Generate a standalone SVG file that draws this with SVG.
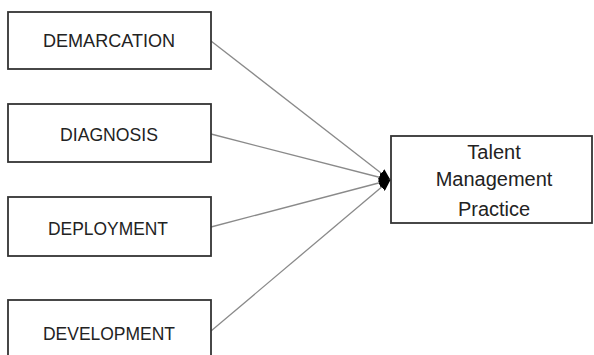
<svg xmlns="http://www.w3.org/2000/svg" width="594" height="355" viewBox="0 0 594 355">
<style>
.box{fill:#fff;stroke:#333;stroke-width:1.8}
.lbl{font-family:"Liberation Sans",Arial,sans-serif;font-size:18px;fill:#222;text-anchor:middle}
.rl{font-size:20px}
.con{stroke:#8a8a8a;stroke-width:1.3;fill:none;marker-end:url(#ah)}
</style>
<defs>
<marker id="ah" markerUnits="userSpaceOnUse" markerWidth="12" markerHeight="10" refX="11" refY="5" orient="auto">
<path d="M0,0 L12,5 L0,10 z" fill="#000"/>
</marker>
</defs>
<rect width="594" height="355" fill="#fff"/>
<g id="connectors">
<line class="con" x1="211" y1="41" x2="390" y2="180"/>
<line class="con" x1="211" y1="134" x2="390" y2="180"/>
<line class="con" x1="211" y1="227" x2="390" y2="180"/>
<line class="con" x1="211" y1="331" x2="390" y2="180"/>
</g>
<g id="demarcation">
<rect class="box" x="8" y="12" width="203" height="57"/>
<text class="lbl" x="109" y="47" textLength="132" lengthAdjust="spacingAndGlyphs">DEMARCATION</text>
</g>
<g id="diagnosis">
<rect class="box" x="8" y="104" width="203" height="58"/>
<text class="lbl" x="109" y="141" textLength="98" lengthAdjust="spacingAndGlyphs">DIAGNOSIS</text>
</g>
<g id="deployment">
<rect class="box" x="8" y="197" width="203" height="59"/>
<text class="lbl" x="108" y="235" textLength="120" lengthAdjust="spacingAndGlyphs">DEPLOYMENT</text>
</g>
<g id="development">
<rect class="box" x="8" y="300" width="203" height="70"/>
<text class="lbl" x="109" y="340" textLength="132" lengthAdjust="spacingAndGlyphs">DEVELOPMENT</text>
</g>
<g id="talent">
<rect class="box" x="391" y="136" width="201" height="87"/>
<text class="lbl rl" x="494" y="159">Talent</text>
<text class="lbl rl" x="494" y="186">Management</text>
<text class="lbl rl" x="494" y="216">Practice</text>
</g>
</svg>
